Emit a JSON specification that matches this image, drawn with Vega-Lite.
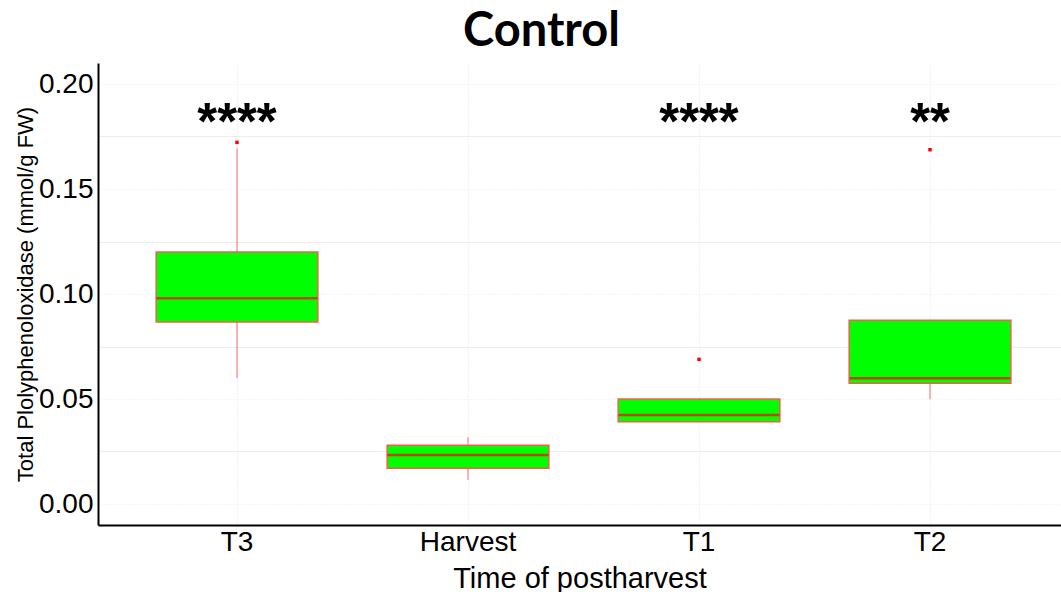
{
  "$schema": "https://vega.github.io/schema/vega-lite/v6.json",
  "autosize": {"type": "none"},
  "padding": {"left": 98, "top": 63, "right": 0, "bottom": 67},
  "width": 963,
  "height": 462,
  "background": "white",
  "title": {
    "text": "Control",
    "font": "Lato",
    "fontSize": 47,
    "fontWeight": "bold",
    "color": "black",
    "anchor": "middle",
    "frame": "group",
    "dx": -38,
    "baseline": "alphabetic",
    "offset": -30
  },
  "config": {
    "view": {"stroke": null},
    "font": "Liberation Sans"
  },
  "datasets": {
    "boxes": [
      {"time": "T3", "lower": 0.0599, "q1": 0.0867, "median": 0.098, "q3": 0.12, "upper": 0.1694},
      {"time": "Harvest", "lower": 0.0114, "q1": 0.017, "median": 0.0233, "q3": 0.028, "upper": 0.0318},
      {"time": "T1", "lower": 0.0392, "q1": 0.0392, "median": 0.0424, "q3": 0.05, "upper": 0.05},
      {"time": "T2", "lower": 0.0499, "q1": 0.0575, "median": 0.0599, "q3": 0.0875, "upper": 0.0875}
    ],
    "outliers": [
      {"time": "T3", "value": 0.1722},
      {"time": "T1", "value": 0.0689},
      {"time": "T2", "value": 0.1687}
    ],
    "stars": [
      {"time": "T3", "label": "****", "y": 0.174},
      {"time": "T1", "label": "****", "y": 0.174},
      {"time": "T2", "label": "**", "y": 0.174}
    ]
  },
  "encoding": {
    "x": {
      "field": "time",
      "type": "nominal",
      "sort": ["T3", "Harvest", "T1", "T2"],
      "scale": {"domain": ["T3", "Harvest", "T1", "T2"], "paddingInner": 0.3, "paddingOuter": 0.2344, "align": 0.537},
      "axis": {
        "title": "Time of postharvest",
        "titleFont": "Liberation Sans",
        "titleFontSize": 29,
        "titleFontWeight": "normal",
        "titleColor": "black",
        "titlePadding": 8,
        "labelFont": "Liberation Sans",
        "labelFontSize": 28,
        "labelColor": "black",
        "labelAngle": 0,
        "labelPadding": 3,
        "ticks": false,
        "tickSize": 0,
        "domainColor": "black",
        "domainWidth": 2,
        "grid": true,
        "bandPosition": 0.5,
        "gridColor": "#e6e6e6",
        "gridDash": [1, 2],
        "gridWidth": 1
      }
    }
  },
  "layer": [
    {
      "data": {"name": "boxes"},
      "mark": {"type": "rule", "color": "#ff6a6a", "strokeWidth": 1},
      "encoding": {
        "y": {
          "field": "lower",
          "type": "quantitative",
          "scale": {"domain": [-0.01, 0.21], "nice": false, "zero": false},
          "axis": {
            "title": "Total Plolyphenoloxidase (mmol/g FW)",
            "titleFont": "Liberation Sans",
            "titleFontSize": 22,
            "titleFontWeight": "normal",
            "titleColor": "black",
            "titlePadding": 1,
            "values": [0, 0.025, 0.05, 0.075, 0.1, 0.125, 0.15, 0.175, 0.2],
            "labelExpr": "round(datum.value*1000) % 50 == 0 ? format(datum.value, '.2f') : ''",
            "labelFont": "Liberation Sans",
            "labelFontSize": 28,
            "labelColor": "black",
            "labelPadding": 5,
            "ticks": false,
            "tickSize": 0,
            "domainColor": "black",
            "domainWidth": 2,
            "grid": true,
            "gridColor": "#ececec",
            "gridWidth": 1,
            "gridDash": {"condition": {"test": "round(datum.value*1000) % 50 == 0", "value": [1, 2]}, "value": []}
          }
        },
        "y2": {"field": "upper"}
      }
    },
    {
      "data": {"name": "boxes"},
      "mark": {"type": "bar", "fill": "#00ff00", "stroke": "#f0604c", "strokeWidth": 1.5},
      "encoding": {
        "y": {"field": "q1", "type": "quantitative"},
        "y2": {"field": "q3"}
      }
    },
    {
      "data": {"name": "boxes"},
      "mark": {"type": "tick", "color": "#ff0000", "thickness": 2.5, "size": 161},
      "encoding": {
        "y": {"field": "median", "type": "quantitative"}
      }
    },
    {
      "data": {"name": "outliers"},
      "mark": {"type": "point", "shape": "square", "filled": true, "color": "#ff0000", "size": 12, "opacity": 1},
      "encoding": {
        "y": {"field": "value", "type": "quantitative"}
      }
    },
    {
      "mark": {"type": "rule", "color": "black", "strokeWidth": 3, "strokeDash": [11, 11]},
      "encoding": {
        "x": null,
        "y": {"datum": 0.0657, "type": "quantitative"}
      }
    },
    {
      "data": {"name": "stars"},
      "mark": {"type": "text", "font": "Liberation Sans", "fontSize": 51, "fontWeight": "bold", "color": "black", "baseline": "alphabetic", "align": "center"},
      "encoding": {
        "y": {"field": "y", "type": "quantitative"},
        "text": {"field": "label"}
      }
    }
  ]
}
